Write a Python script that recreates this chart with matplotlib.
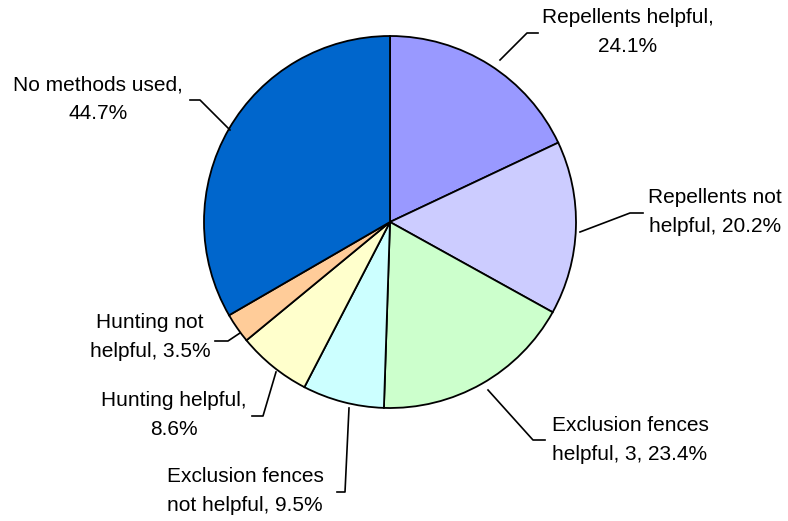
import matplotlib
matplotlib.use("Agg")
import matplotlib.pyplot as plt

labels = ["Repellents helpful,\n24.1%", "Repellents not\nhelpful, 20.2%",
          "Exclusion fences\nhelpful, 3, 23.4%", "Exclusion fences\nnot helpful, 9.5%",
          "Hunting helpful,\n8.6%", "Hunting not\nhelpful, 3.5%", "No methods used,\n44.7%"]
values = [24.1, 20.2, 23.4, 9.5, 8.6, 3.5, 44.7]
colors = ["#9999FF", "#CCCCFF", "#CCFFCC", "#CCFFFF", "#FFFFCC", "#FFCC99", "#0066CC"]

# label placement in pixel coords (top-left origin): text centre, leader line points
text_pos = [(628, 32), (715, 212), (630, 440), (245, 491), (174, 415), (150, 337), (98, 99)]
leaders = [[(500, 60), (527, 33), (538, 33)],
           [(580, 232), (630, 213), (643, 213)],
           [(488, 390), (533, 440), (545, 440)],
           [(349, 408), (345, 492), (337, 492)],
           [(276, 372), (263, 416), (252, 416)],
           [(240, 333), (228, 341), (215, 341)],
           [(230, 130), (200, 100), (190, 100)]]

W, H = 788, 521
plt.rcParams["font.family"] = ["Liberation Sans", "DejaVu Sans"]
fig = plt.figure(figsize=(W / 100, H / 100), dpi=100)
ax = fig.add_axes([0, 0, 1, 1])

ax.pie(values, colors=colors, startangle=90, counterclock=False,
       center=(390, H - 222), radius=186, frame=True,
       wedgeprops=dict(edgecolor="black", linewidth=1.3))
ax.set_xlim(0, W); ax.set_ylim(0, H)
ax.set_aspect("equal"); ax.axis("off")

for lab, (tx, ty), pts in zip(labels, text_pos, leaders):
    ax.plot([p[0] for p in pts], [H - p[1] for p in pts], color="black", lw=1.2)
    ax.text(tx, H - ty, lab, ha="center", va="center", fontsize=15, linespacing=1.62)

fig.savefig("out.png", dpi=100)
